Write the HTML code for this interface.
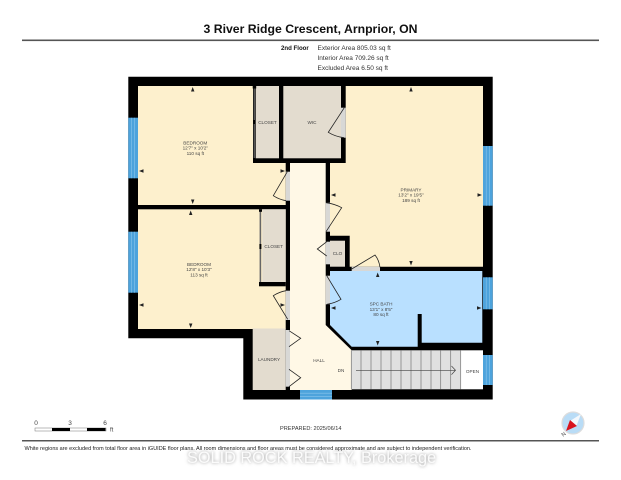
<!DOCTYPE html>
<html><head><meta charset="utf-8"><style>
html,body{margin:0;padding:0;background:#fff;width:621px;height:480px;overflow:hidden}
svg{display:block;filter:blur(.3px)}
text{font-family:"Liberation Sans",sans-serif}
.r{font-size:4.65px;fill:#444;text-anchor:middle}
.i{font-size:6.5px;fill:#333}
.d{fill:none;stroke:#222;stroke-width:.8}
.g{fill:#d8d8d6}
.w{fill:#4da3dc}
.k{fill:#000}
.a{fill:#222}
</style></head><body>
<svg width="621" height="480" viewBox="0 0 621 480" xmlns="http://www.w3.org/2000/svg">
<defs><filter id="b" x="-5%" y="-50%" width="110%" height="200%"><feGaussianBlur stdDeviation="1.6"/></filter></defs>
<rect width="621" height="480" fill="#fff"/>
<text x="310.5" y="33" text-anchor="middle" font-size="12.25" font-weight="bold" fill="#111">3 River Ridge Crescent, Arnprior, ON</text>
<rect x="22" y="39.5" width="577" height="1.6" fill="#555"/>
<text x="281" y="50" font-size="6.1" font-weight="bold" fill="#111">2nd Floor</text>
<text class="i" x="317.5" y="50">Exterior Area 805.03 sq ft</text>
<text class="i" x="317.5" y="60">Interior Area 709.26 sq ft</text>
<text class="i" x="317.5" y="70">Excluded Area 6.50 sq ft</text>

<!-- outer black mass -->
<polygon class="k" points="128.3,76.7 492.7,76.7 492.7,399.5 243.3,399.5 243.3,338.3 128.3,338.3"/>

<!-- rooms -->
<polygon fill="#fdf0cd" points="138,86 253,86 253,163 285.7,163 285.7,205 138,205"/>
<rect x="255.7" y="86" width="23.3" height="72.3" fill="#e3dccf"/>
<rect x="283.3" y="86" width="57.7" height="72.3" fill="#e3dccf"/>
<polygon fill="#fdf0cd" points="345.7,86 483,86 483,266.7 349.7,266.7 349.7,235.7 330,235.7 330,163 345.7,163"/>
<polygon fill="#fff8e6" points="290,163 325.7,163 325.7,325 351.7,350.3 351.7,390 290,390"/>
<rect x="138" y="209.3" width="147.7" height="119.7" fill="#fdf0cd"/>
<rect x="262.3" y="209.3" width="23.4" height="72.7" fill="#e3dccf"/>
<rect x="252.7" y="328.5" width="33" height="61.5" fill="#e3dccf"/>
<rect x="330" y="240.7" width="15" height="26" fill="#e3dccf"/>
<polygon fill="#b9e0ff" points="330,271 482.3,271 482.3,342.7 421.7,342.7 421.7,314 417.7,314 417.7,346.7 351.7,346.7 330,325"/>
<rect x="351" y="350.3" width="109.7" height="39" fill="#e0e0e0"/>
<rect x="460.7" y="350.3" width="22.3" height="39" fill="#fff"/>

<!-- closet partition walls -->
<rect x="253.6" y="88" width="1.4" height="70" fill="#555"/>
<rect x="252.7" y="86" width="3.5" height="2.5" class="k"/>
<rect x="253" y="120" width="2" height="4" class="k"/>
<rect x="259.6" y="209.3" width="1.6" height="72.7" fill="#666"/>
<rect x="259" y="209.3" width="3" height="2.5" class="k"/>
<rect x="259.4" y="244" width="2" height="5" class="k"/>
<rect x="259" y="282" width="26.7" height="4.3" class="k"/>

<!-- door gaps -->
<rect class="g" x="285.7" y="171.7" width="4.3" height="29"/>
<rect class="g" x="285.7" y="290.7" width="4.3" height="29.3"/>
<rect class="g" x="285.7" y="330" width="4.3" height="56.7"/>
<rect class="g" x="341" y="107.7" width="4.7" height="30"/>
<rect class="g" x="325.7" y="202.7" width="4.3" height="29"/>
<rect class="g" x="325.7" y="241.7" width="4.3" height="22.6"/>
<rect class="g" x="325.7" y="275.7" width="4.3" height="28.6"/>
<rect class="g" x="351.7" y="266.7" width="28.3" height="4.3"/>

<!-- windows -->
<g class="w">
<rect x="128.3" y="117.7" width="9.7" height="60.6"/>
<rect x="128.3" y="231.7" width="9.7" height="61"/>
<rect x="483" y="146" width="9.7" height="59.7"/>
<rect x="483" y="277.3" width="9.7" height="32"/>
<rect x="483" y="355" width="9.7" height="30"/>
<rect x="300" y="390" width="32" height="9.5"/>
</g>
<g stroke="#8ac6ec" stroke-width=".6" fill="none">
<path d="M131.5 117.7V178.3M134.7 117.7V178.3M131.5 231.7V292.7M134.7 231.7V292.7M486.2 146V205.7M489.4 146V205.7M486.2 277.3V309.3M489.4 277.3V309.3M486.2 355V385M489.4 355V385M300 393.2H332M300 396.4H332"/>
</g>

<!-- stairs -->
<path d="M351.3 350.3V389.3M361 350.3V389.3M371 350.3V389.3M381 350.3V389.3M391 350.3V389.3M401 350.3V389.3M411 350.3V389.3M421 350.3V389.3M431 350.3V389.3M440.7 350.3V389.3M450.7 350.3V389.3M460.7 350.3V389.3" stroke="#777" stroke-width=".7" fill="none"/>
<path d="M356 370.3H455.5M451.5 366 L455.5 370.3 L451.5 374.6" stroke="#444" stroke-width=".7" fill="none"/>

<!-- doors -->
<path class="d" d="M287.3 171.7L273.3 195.7Q279 199.5 286 200.7"/>
<path class="d" d="M344.3 107.7L328.3 132.3Q335 136.5 344 137.7"/>
<path class="d" d="M326 231.7L341.7 207.7Q335 204 326 202.7"/>
<path class="d" d="M326.7 241.7L317.3 249L326.7 256"/>
<path class="d" d="M287.7 319.3L273.3 295.7Q279 292 286 290.7"/>
<path class="d" d="M289 330.7L300.7 338.3L289 346.7"/>
<path class="d" d="M289 369.3L300.7 377.7L289 386.7"/>
<path class="d" d="M351.7 269L375 255Q379 260 380 267.3"/>
<path class="d" d="M326.7 275.7L341 299.3Q335 303 327 304.3"/>

<!-- dimension arrows -->
<g class="a">
<polygon points="192.7,87 191,91.5 194.4,91.5"/>
<polygon points="192.7,204 191,199.5 194.4,199.5"/>
<polygon points="139,171 143.5,169.3 143.5,172.7"/>
<polygon points="285,171 280.5,169.3 280.5,172.7"/>
<polygon points="190.7,210.5 189,215 192.4,215"/>
<polygon points="190.7,328 189,323.5 192.4,323.5"/>
<polygon points="139,305 143.5,303.3 143.5,306.7"/>
<polygon points="285,305 280.5,303.3 280.5,306.7"/>
<polygon points="411,87 409.3,91.5 412.7,91.5"/>
<polygon points="411,265.5 409.3,261 412.7,261"/>
<polygon points="331,195 335.5,193.3 335.5,196.7"/>
<polygon points="482,195 477.5,193.3 477.5,196.7"/>
<polygon points="377.7,272.5 376,277 379.4,277"/>
<polygon points="377.7,345.5 376,341 379.4,341"/>
<polygon points="331,308 335.5,306.3 335.5,309.7"/>
<polygon points="481.5,308 477,306.3 477,309.7"/>
</g>

<!-- labels -->
<text class="r" x="195.3" y="144.5">BEDROOM</text><text class="r" x="195.3" y="149.7">12'7" x 10'2"</text><text class="r" x="195.3" y="155">110 sq ft</text>
<text class="r" x="267.5" y="124">CLOSET</text>
<text class="r" x="312" y="124">WIC</text>
<text class="r" x="411" y="191.5">PRIMARY</text><text class="r" x="411" y="196.7">13'2" x 19'5"</text><text class="r" x="411" y="202">189 sq ft</text>
<text class="r" x="199" y="266">BEDROOM</text><text class="r" x="199" y="271">12'8" x 10'3"</text><text class="r" x="199" y="276.5">113 sq ft</text>
<text class="r" x="273.7" y="248">CLOSET</text>
<text class="r" x="337.5" y="255">CLO</text>
<text class="r" x="381" y="305.7">SPC BATH</text><text class="r" x="381" y="311">13'1" x 8'5"</text><text class="r" x="381" y="316">80 sq ft</text>
<text class="r" x="269" y="361">LAUNDRY</text>
<text class="r" x="319" y="362">HALL</text>
<text class="r" x="341" y="372">DN</text>
<text class="r" x="472.5" y="373">OPEN</text>

<!-- scale -->
<text x="36" y="425" font-size="6.5" fill="#444" text-anchor="middle">0</text>
<text x="70" y="425" font-size="6.5" fill="#444" text-anchor="middle">3</text>
<text x="105" y="425" font-size="6.5" fill="#444" text-anchor="middle">6</text>
<rect x="35" y="428" width="71" height="3" fill="#fff" stroke="#777" stroke-width=".5"/>
<rect x="52" y="428" width="18" height="3" fill="#000"/>
<rect x="87" y="428" width="18.5" height="3" fill="#000"/>
<text x="110" y="431.5" font-size="6" fill="#444">ft</text>
<text x="280" y="430" font-size="5.6" fill="#333">PREPARED: 2025/06/14</text>

<!-- compass -->
<circle cx="573" cy="423" r="11" fill="#b9dcf6" stroke="#ddd" stroke-width="1.2"/>
<polygon points="581,414 570,421 576,427" fill="#f4f8fc"/>
<polygon points="566,431 570,420 577,426" fill="#d8141e"/>
<text x="563.5" y="436" font-size="5.5" fill="#444" text-anchor="middle" transform="rotate(-40 563.5 434)">N</text>

<!-- footer -->
<rect x="22" y="440" width="577" height="1.5" fill="#555"/>
<text x="24.5" y="450" font-size="5.5" fill="#222">White regions are excluded from total floor area in iGUIDE floor plans. All room dimensions and floor areas must be considered approximate and are subject to independent verification.</text>

<!-- watermark -->
<text x="187" y="463" font-size="16.3" fill="#999" filter="url(#b)">SOLID ROCK REALTY, Brokerage</text>
<text x="187" y="463" font-size="16.3" fill="#fbfbfb">SOLID ROCK REALTY, Brokerage</text>
</svg>
</body></html>
